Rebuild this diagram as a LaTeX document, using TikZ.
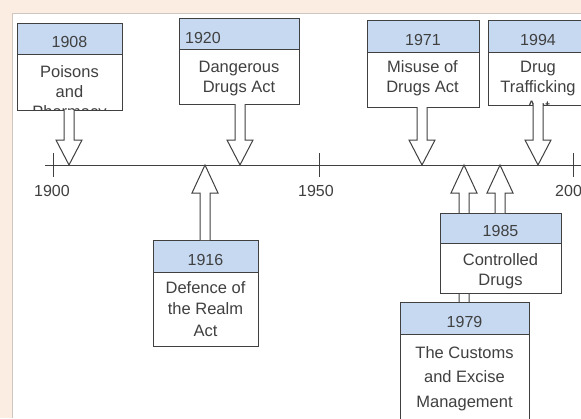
\documentclass[tikz,border=0pt]{standalone}
\usepackage{fontspec}
\setmainfont{Liberation Sans}
\definecolor{bg}{HTML}{FBEDE2}
\definecolor{hdr}{HTML}{C6D9F1}
\definecolor{ln}{HTML}{404040}
\definecolor{panelline}{HTML}{CFC6C0}
\newcommand\blkarrow[4]{% x, start y, head base y, tip y
  \fill[white] (#1-5,#2) -- (#1-5,#3) -- (#1-13,#3) -- (#1,#4) -- (#1+13,#3) -- (#1+5,#3) -- (#1+5,#2) -- cycle;
  \draw[arrline] (#1-5,#2) -- (#1-5,#3) -- (#1-13,#3) -- (#1,#4) -- (#1+13,#3) -- (#1+5,#3) -- (#1+5,#2);
}
\begin{document}
\begin{tikzpicture}[x=1pt,y=-1pt,
  boxline/.style={draw=ln, line width=1pt},
  arrline/.style={draw=ln, line width=1pt, line join=miter},
  yr/.style={inner sep=0, anchor=base, font=\fontsize{16}{20}\selectfont, text=ln},
  body/.style={inner sep=0, anchor=north, align=center, font=\fontsize{16.5}{20}\selectfont, text=ln},
  axlbl/.style={inner sep=0, anchor=base, font=\fontsize{16}{20}\selectfont, text=ln}]
\useasboundingbox (0,0) rectangle (581,418);
\fill[bg] (0,0) rectangle (581,418);
\fill[white] (12,13) rectangle (581,418);
\draw[panelline, line width=1pt] (12,418) -- (12,13) -- (581,13);

% timeline
\coordinate (tlstart) at (45,165);
\coordinate (tlend) at (581,165);
\draw[ln, line width=1pt] (tlstart) -- (tlend);
\foreach \x/\lab/\lx in {53/1900/52, 319/1950/316, 573/2000/573} {
  \draw[ln, line width=1pt] (\x,153) -- (\x,177);
  \node[axlbl] (lab\lab) at (\lx,196) {\lab};
}

% 1908
\draw[boxline, fill=white] (17,23) rectangle (122,110);
\draw[boxline, fill=hdr] (17,23) rectangle (122,54);
\node[yr] (y1908) at (69.5,47) {1908};
\begin{scope}
  \clip (17,54) rectangle (122,110);
  \node[body] (t1908) at (69.5,65.5) {Poisons\\and\\Pharmacy\\Act};
\end{scope}
\blkarrow{69}{110}{140}{165}

% 1920
\draw[boxline, fill=white] (179,18) rectangle (299,104);
\draw[boxline, fill=hdr] (179,18) rectangle (299,49);
\node[yr, anchor=base west] (y1920) at (185,43) {1920};
\node[body] (t1920) at (239,60.5) {Dangerous\\Drugs Act};
\blkarrow{240}{104}{140}{165}

% 1971
\draw[boxline, fill=white] (367,20) rectangle (479,107);
\draw[boxline, fill=hdr] (367,20) rectangle (479,52);
\node[yr] (y1971) at (423,45) {1971};
\node[body] (t1971) at (422.5,60.5) {Misuse of\\Drugs Act};
\blkarrow{422}{107}{140}{165}

% 1994
\draw[boxline, fill=white] (488,20) rectangle (600,105);
\draw[boxline, fill=hdr] (488,20) rectangle (600,52);
\node[yr] (y1994) at (538,45) {1994};
\begin{scope}
  \clip (488,52) rectangle (600,105);
  \node[body] (t1994) at (538,60.5) {Drug\\Trafficking\\Act};
\end{scope}
\blkarrow{538}{103}{140}{165}

% 1916
\draw[boxline, fill=white] (153,240) rectangle (258,346);
\draw[boxline, fill=hdr] (153,240) rectangle (258,272);
\node[yr] (y1916) at (205.5,265) {1916};
\node[body, font=\fontsize{16.5}{21.5}\selectfont] (t1916) at (205.5,281) {Defence of\\the Realm\\Act};
\blkarrow{205}{240}{193}{165}

% 1979
\blkarrow{464}{302}{193}{165}
\draw[boxline, fill=white] (400,302) rectangle (529,430);
\draw[boxline, fill=hdr] (400,302) rectangle (529,334);
\node[yr] (y1979) at (464.5,327) {1979};
\node[body, font=\fontsize{16.5}{24.5}\selectfont] (t1979) at (464.5,346) {The Customs\\and Excise\\Management};

% 1985
\draw[boxline, fill=white] (440,213) rectangle (561,293);
\draw[boxline, fill=hdr] (440,213) rectangle (561,243);
\node[yr] (y1985) at (500.5,236) {1985};
\begin{scope}
  \clip (440,243) rectangle (561,293);
  \node[body] (t1985) at (500.5,253) {Controlled\\Drugs\\Act};
\end{scope}
\blkarrow{500}{213}{193}{165}
\end{tikzpicture}
\end{document}
